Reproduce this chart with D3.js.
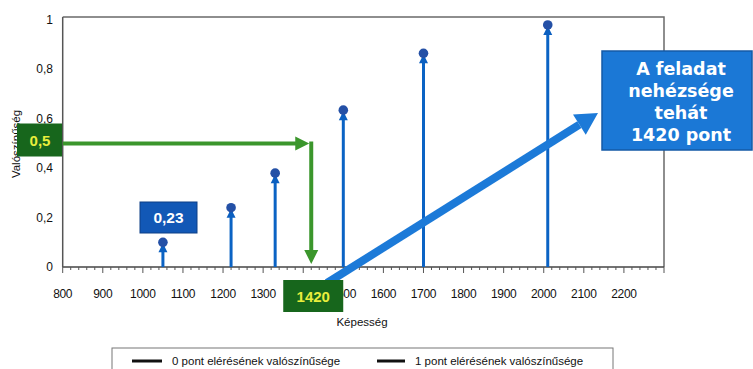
<!DOCTYPE html>
<html><head><meta charset="utf-8">
<script src="https://cdn.jsdelivr.net/npm/d3@7"></script>
<style>
html,body{margin:0;padding:0;background:#fff;}
svg{display:block;}
</style></head>
<body>
<svg id="c" width="753" height="369"></svg>
<script>
// ---- data ----
const abilities = [1050, 1220, 1330, 1500, 1700, 2010];
const probabilities = [0.10, 0.24, 0.38, 0.635, 0.865, 0.98];
const xTickValues = [800, 900, 1000, 1100, 1200, 1300, 1400, 1500, 1600, 1700, 1800, 1900, 2000, 2100, 2200];
const yTickValues = [0, 0.2, 0.4, 0.6, 0.8, 1];
const yTickLabels = ["0", "0,2", "0,4", "0,6", "0,8", "1"];
const legendLabels = ["0 pont elérésének valószínűsége", "1 pont elérésének valószínűsége"];
const targetProb = 0.5;
const targetAbility = 1420;
const targetProbLabel = "0,5";
const targetAbilityLabel = "1420";
const pointLabel = "0,23";
const calloutLines = ["A feladat", "nehézsége", "tehát", "1420 pont"];
const xTitle = "Képesség";
const yTitle = "Valószínűség";

const svg = d3.select("#c");
const x = d3.scaleLinear().domain([800, 2300]).range([62.7, 664]);
const y = d3.scaleLinear().domain([0, 1]).range([267, 20]);
const font = "'Liberation Sans', Arial, sans-serif";
const boldFont = "'DejaVu Sans', Verdana, sans-serif";

// frame (top/right)
svg.append("path")
  .attr("d", `M${x(800)},${y(1.012)} H${x(2300)} V${y(0)}`)
  .attr("fill", "none").attr("stroke", "#6a6a6a").attr("stroke-width", 1.5);

// x axis
const minorTicks = d3.range(800, 2301, 20);
const xg = svg.append("g");
xg.append("line").attr("x1", x(800)).attr("x2", x(2300)).attr("y1", y(0)).attr("y2", y(0))
  .attr("stroke", "#444").attr("stroke-width", 1.5);
xg.selectAll("line.minor").data(minorTicks).join("line").attr("class", "minor")
  .attr("x1", d => x(d)).attr("x2", d => x(d))
  .attr("y1", y(0)).attr("y2", d => y(0) + (d % 100 === 0 ? 6 : 3))
  .attr("stroke", "#555").attr("stroke-width", 1);
xg.selectAll("text").data(xTickValues).join("text")
  .attr("x", d => x(d)).attr("y", 298)
  .attr("text-anchor", "middle").attr("font-family", font).attr("font-size", 12)
  .attr("letter-spacing", -0.3).attr("fill", "#111").text(d => d);

// y axis
svg.append("line").attr("x1", x(800)).attr("x2", x(800)).attr("y1", y(1.012)).attr("y2", y(0))
  .attr("stroke", "#555").attr("stroke-width", 1.5);
svg.selectAll("text.yt").data(yTickValues).join("text").attr("class", "yt")
  .attr("x", 53).attr("y", d => y(d) + 4)
  .attr("text-anchor", "end").attr("font-family", font).attr("font-size", 12)
  .attr("fill", "#111").text((d, i) => yTickLabels[i]);

// titles
svg.append("text").attr("x", 362).attr("y", 326).attr("text-anchor", "middle")
  .attr("font-family", font).attr("font-size", 11.5).attr("fill", "#111").text(xTitle);
svg.append("text").attr("transform", "translate(20,144) rotate(-90)").attr("text-anchor", "middle")
  .attr("font-family", font).attr("font-size", 11.5).attr("fill", "#111").text(yTitle);

// stems
const stems = svg.append("g");
abilities.forEach((a, i) => {
  const px = x(a), py = y(probabilities[i]);
  stems.append("line").attr("x1", px).attr("x2", px).attr("y1", y(0)).attr("y2", py)
    .attr("stroke", "#0b63c4").attr("stroke-width", 3);
  stems.append("path")
    .attr("d", `M${px},${py + 1} L${px - 4.5},${py + 10} L${px + 4.5},${py + 10} Z`)
    .attr("fill", "#0b5fc0");
  stems.append("circle").attr("cx", px).attr("cy", py).attr("r", 4.8).attr("fill", "#2450a6");
});

// green arrows
const gy = y(targetProb), gx = x(targetAbility);
const green = "#3b962c";
svg.append("line").attr("x1", x(800)).attr("x2", gx - 10).attr("y1", gy).attr("y2", gy)
  .attr("stroke", green).attr("stroke-width", 4);
svg.append("path").attr("d", `M${gx - 2},${gy} L${gx - 16},${gy - 7} L${gx - 16},${gy + 7} Z`).attr("fill", green);
svg.append("line").attr("x1", gx).attr("x2", gx).attr("y1", gy - 2).attr("y2", y(0) - 14)
  .attr("stroke", green).attr("stroke-width", 4);
svg.append("path").attr("d", `M${gx},${y(0) - 3} L${gx - 7},${y(0) - 17} L${gx + 7},${y(0) - 17} Z`).attr("fill", green);

// blue big arrow
const blue = "#1c7ad8";
const ax0 = 327, ay0 = 283, ax1 = 598, ay1 = 113;
const ang = Math.atan2(ay1 - ay0, ax1 - ax0);
const hl = 22, hw = 12;
const bx = ax1 - hl * Math.cos(ang), by = ay1 - hl * Math.sin(ang);
svg.append("line").attr("x1", ax0).attr("y1", ay0).attr("x2", bx).attr("y2", by)
  .attr("stroke", blue).attr("stroke-width", 8);
svg.append("path").attr("d",
  `M${ax1},${ay1} L${bx + hw * Math.sin(ang)},${by - hw * Math.cos(ang)} L${bx - hw * Math.sin(ang)},${by + hw * Math.cos(ang)} Z`)
  .attr("fill", blue);

// dark green label boxes
const dg = "#17661c", yel = "#e9ee3c";
svg.append("rect").attr("x", 17).attr("y", gy - 20).attr("width", 45).attr("height", 33).attr("fill", dg);
svg.append("text").attr("x", 40).attr("y", gy + 2).attr("text-anchor", "middle")
  .attr("font-family", font).attr("font-weight", "bold").attr("font-size", 15).attr("fill", yel).text(targetProbLabel);
svg.append("rect").attr("x", gx - 28).attr("y", 280).attr("width", 60).attr("height", 32).attr("fill", dg);
svg.append("text").attr("x", gx + 2).attr("y", 302).attr("text-anchor", "middle")
  .attr("font-family", font).attr("font-weight", "bold").attr("font-size", 15).attr("fill", yel).text(targetAbilityLabel);

// 0,23 box
svg.append("rect").attr("x", 140).attr("y", 202).attr("width", 57).attr("height", 31)
  .attr("fill", "#1258b6").attr("stroke", "#0d3f86").attr("stroke-width", 1);
svg.append("text").attr("x", 168.5).attr("y", 223).attr("text-anchor", "middle")
  .attr("font-family", font).attr("font-weight", "bold").attr("font-size", 15.5).attr("fill", "#fff").text(pointLabel);

// callout
svg.append("rect").attr("x", 602).attr("y", 51).attr("width", 150).attr("height", 99)
  .attr("fill", "#1b78d6").attr("stroke", "#145aa6").attr("stroke-width", 1.5);
svg.selectAll("text.co").data(calloutLines).join("text").attr("class", "co")
  .attr("x", 681).attr("y", (d, i) => 75 + i * 22).attr("text-anchor", "middle")
  .attr("font-family", boldFont).attr("font-weight", "bold").attr("font-size", 17.5)
  .attr("fill", "#fff").text(d => d);

// legend
svg.append("rect").attr("x", 112).attr("y", 348).attr("width", 501).attr("height", 30)
  .attr("fill", "#fff").attr("stroke", "#777").attr("stroke-width", 1);
const legX = [[132, 162, 172], [377, 405, 415]];
legendLabels.forEach((l, i) => {
  svg.append("line").attr("x1", legX[i][0]).attr("x2", legX[i][1]).attr("y1", 361).attr("y2", 361)
    .attr("stroke", "#111").attr("stroke-width", 3);
  svg.append("text").attr("x", legX[i][2]).attr("y", 365).attr("font-family", font)
    .attr("font-size", 11.5).attr("fill", "#111").text(l);
});
</script>
</body></html>
